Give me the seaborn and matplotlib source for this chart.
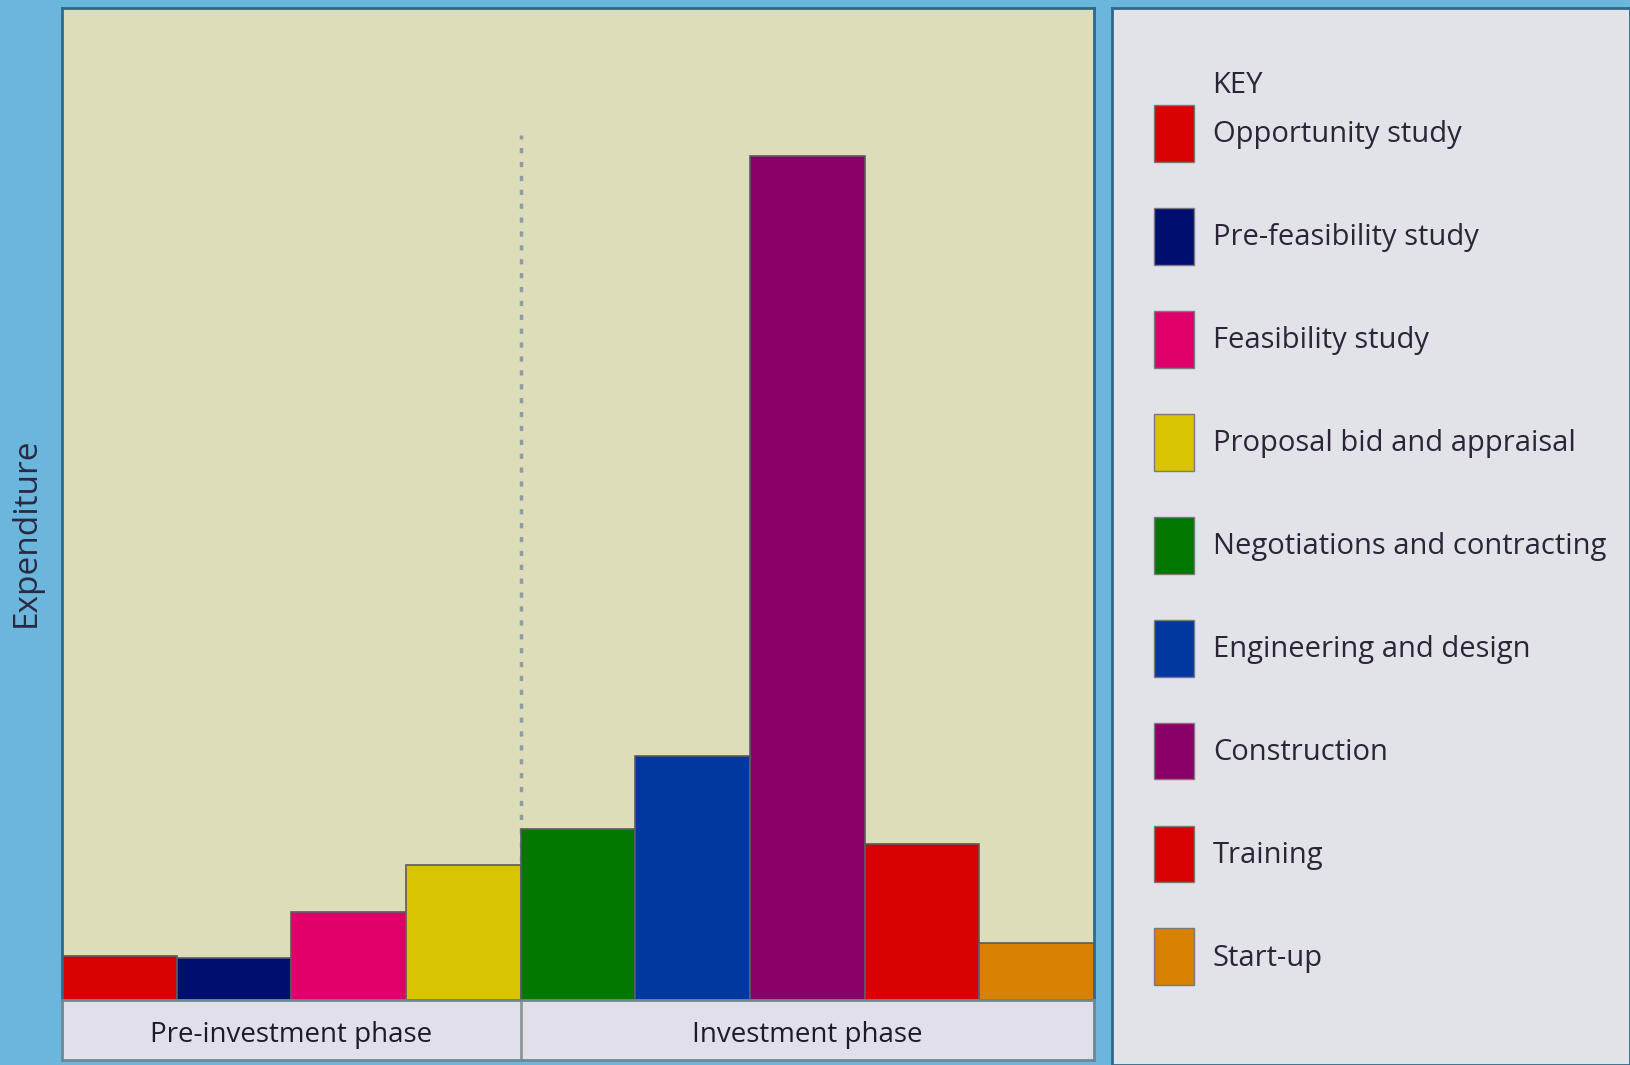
import matplotlib
matplotlib.use("Agg")
import matplotlib.pyplot as plt
import seaborn as sns
from matplotlib.patches import Patch

categories = ["Opportunity study", "Pre-feasibility study", "Feasibility study",
              "Proposal bid and appraisal", "Negotiations and contracting",
              "Engineering and design", "Construction", "Training", "Start-up"]
values = [42, 40, 85, 130, 164, 235, 812, 150, 55]
colors = ["#D80000", "#000E70", "#E0006A", "#D8C400", "#007800",
          "#0038A0", "#880068", "#D80000", "#D88000"]
phases = ["Pre-investment phase", "Investment phase"]
phase_centers = [1.5, 6.0]
divider = 3.5
divider_top = 832
y_max = 954

sns.set_theme(style="white")
FONT = ["Open Sans", "DejaVu Sans"]
plt.rcParams["font.family"] = FONT

W, H = 1630, 1065
fig = plt.figure(figsize=(W / 100, H / 100), dpi=100)
fig.patch.set_facecolor("#6BB6DC")

def box(x0, y0, x1, y1):
    return [x0 / W, 1 - y1 / H, (x1 - x0) / W, (y1 - y0) / H]

# main plot
ax = fig.add_axes(box(62, 8, 1094, 1000))
ax.set_facecolor("#DEDDB9")
sns.barplot(x=categories, y=values, hue=categories, palette=colors, width=1,
            saturation=1, dodge=False, legend=False, edgecolor="#5E5A60",
            linewidth=1.2, ax=ax)
ax.set_xlim(-0.5, len(categories) - 0.5)
ax.set_ylim(0, y_max)
ax.vlines(divider, 0, divider_top, colors="#8E9CA4", linestyles=(0, (1.5, 2.5)),
          linewidth=2.5, zorder=0.5)
ax.set_xticks([])
ax.set_yticks([])
ax.set_xlabel("")
ax.set_ylabel("")
for s in ax.spines.values():
    s.set_color("#2E6A88")
    s.set_linewidth(2)

# phase band
bx = fig.add_axes(box(62, 1000, 1094, 1060))
bx.set_facecolor("#E1E0E8")
bx.set_xlim(-0.5, len(categories) - 0.5)
bx.set_ylim(0, 1)
bx.axvline(divider, color="#8C9898", linewidth=2)
for name, c in zip(phases, phase_centers):
    bx.text(c, 0.42, name, ha="center", va="center", fontsize=20, color="#1E1A28")
bx.set_xticks([])
bx.set_yticks([])
for s in bx.spines.values():
    s.set_color("#6E8890")
    s.set_linewidth(2)

# y label
fig.text(26 / W, 1 - 532 / H, "Expenditure", rotation=90, ha="center", va="center",
         fontsize=24, color="#2A2A40")

# legend panel
lx = fig.add_axes(box(1112, 8, 1630, 1065))
lx.set_facecolor("#E2E2E9")
lx.set_xticks([])
lx.set_yticks([])
for s in lx.spines.values():
    s.set_color("#2E6A88")
    s.set_linewidth(2)
handles = [Patch(facecolor=c, edgecolor="#7A7A7A", linewidth=1) for c in colors]
leg = lx.legend(handles, categories, loc="upper left", bbox_to_anchor=(0.081, 0.908),
                frameon=False, fontsize=21, handlelength=1.37, handleheight=2.62,
                labelspacing=1.58, handletextpad=0.65, borderaxespad=0, borderpad=0)
for t in leg.get_texts():
    t.set_color("#2A2636")
lx.text(0.193, 0.927, "KEY", transform=lx.transAxes, fontsize=21, color="#2A2636",
        ha="left", va="center")

fig.savefig("out.png", dpi=100, facecolor=fig.get_facecolor())
